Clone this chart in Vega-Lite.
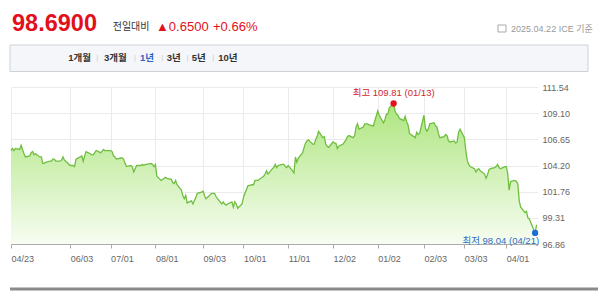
{
  "$schema": "https://vega.github.io/schema/vega-lite/v6.json",
  "width": 527,
  "height": 157,
  "autosize": "none",
  "padding": {"left": 11, "top": 87, "right": 62, "bottom": 58},
  "background": "#ffffff",
  "config": {"view": {"stroke": null}, "font": "Liberation Sans, Noto Sans CJK KR, sans-serif"},
  "datasets": {
    "series": [
      {"date":"2024-04-23","value":105.6},{"date":"2024-04-24","value":105.8},{"date":"2024-04-25","value":105.6},{"date":"2024-04-26","value":105.8},
      {"date":"2024-04-29","value":105.7},{"date":"2024-04-30","value":106.1},{"date":"2024-05-01","value":105.7},{"date":"2024-05-02","value":105.3},{"date":"2024-05-03","value":105.0},
      {"date":"2024-05-06","value":105.1},{"date":"2024-05-07","value":105.4},{"date":"2024-05-08","value":105.5},{"date":"2024-05-09","value":105.2},{"date":"2024-05-10","value":105.3},
      {"date":"2024-05-13","value":105.0},{"date":"2024-05-14","value":105.0},{"date":"2024-05-15","value":104.4},{"date":"2024-05-16","value":104.4},{"date":"2024-05-17","value":104.5},
      {"date":"2024-05-20","value":104.6},{"date":"2024-05-21","value":104.6},{"date":"2024-05-22","value":104.8},{"date":"2024-05-23","value":104.8},{"date":"2024-05-24","value":104.6},
      {"date":"2024-05-27","value":104.6},{"date":"2024-05-28","value":104.7},{"date":"2024-05-29","value":105.0},{"date":"2024-05-30","value":104.7},{"date":"2024-05-31","value":104.6},
      {"date":"2024-06-03","value":104.2},{"date":"2024-06-04","value":104.2},{"date":"2024-06-05","value":104.2},{"date":"2024-06-06","value":104.1},{"date":"2024-06-07","value":104.8},
      {"date":"2024-06-10","value":105.0},{"date":"2024-06-11","value":105.1},{"date":"2024-06-12","value":104.6},{"date":"2024-06-13","value":105.1},{"date":"2024-06-14","value":105.5},
      {"date":"2024-06-17","value":105.3},{"date":"2024-06-18","value":105.2},{"date":"2024-06-19","value":105.2},{"date":"2024-06-20","value":105.4},{"date":"2024-06-21","value":105.6},
      {"date":"2024-06-24","value":105.4},{"date":"2024-06-25","value":105.5},{"date":"2024-06-26","value":105.7},{"date":"2024-06-27","value":105.6},{"date":"2024-06-28","value":105.6},
      {"date":"2024-07-01","value":105.6},{"date":"2024-07-02","value":105.5},{"date":"2024-07-03","value":105.1},{"date":"2024-07-04","value":105.0},{"date":"2024-07-05","value":104.8},
      {"date":"2024-07-08","value":104.9},{"date":"2024-07-09","value":104.9},{"date":"2024-07-10","value":104.8},{"date":"2024-07-11","value":104.4},{"date":"2024-07-12","value":104.1},
      {"date":"2024-07-15","value":104.2},{"date":"2024-07-16","value":104.1},{"date":"2024-07-17","value":103.6},{"date":"2024-07-18","value":103.9},{"date":"2024-07-19","value":104.2},
      {"date":"2024-07-22","value":104.2},{"date":"2024-07-23","value":104.3},{"date":"2024-07-24","value":104.2},{"date":"2024-07-25","value":104.3},{"date":"2024-07-26","value":104.3},
      {"date":"2024-07-29","value":104.4},{"date":"2024-07-30","value":104.3},{"date":"2024-07-31","value":104.1},{"date":"2024-08-01","value":104.3},{"date":"2024-08-02","value":103.2},
      {"date":"2024-08-05","value":102.8},{"date":"2024-08-06","value":102.9},{"date":"2024-08-07","value":103.0},{"date":"2024-08-08","value":103.1},{"date":"2024-08-09","value":103.0},
      {"date":"2024-08-12","value":102.9},{"date":"2024-08-13","value":102.6},{"date":"2024-08-14","value":102.5},{"date":"2024-08-15","value":102.8},{"date":"2024-08-16","value":102.4},
      {"date":"2024-08-19","value":101.9},{"date":"2024-08-20","value":101.4},{"date":"2024-08-21","value":101.1},{"date":"2024-08-22","value":101.4},{"date":"2024-08-23","value":100.7},
      {"date":"2024-08-26","value":100.9},{"date":"2024-08-27","value":100.6},{"date":"2024-08-28","value":100.9},{"date":"2024-08-29","value":101.2},{"date":"2024-08-30","value":101.6},
      {"date":"2024-09-02","value":101.7},{"date":"2024-09-03","value":101.8},{"date":"2024-09-04","value":101.4},{"date":"2024-09-05","value":101.1},{"date":"2024-09-06","value":101.2},
      {"date":"2024-09-09","value":101.6},{"date":"2024-09-10","value":101.6},{"date":"2024-09-11","value":101.6},{"date":"2024-09-12","value":101.3},{"date":"2024-09-13","value":101.1},
      {"date":"2024-09-16","value":100.6},{"date":"2024-09-17","value":100.8},{"date":"2024-09-18","value":100.6},{"date":"2024-09-19","value":100.5},{"date":"2024-09-20","value":100.6},
      {"date":"2024-09-23","value":100.8},{"date":"2024-09-24","value":100.3},{"date":"2024-09-25","value":100.8},{"date":"2024-09-26","value":100.6},{"date":"2024-09-27","value":100.2},
      {"date":"2024-09-30","value":100.6},{"date":"2024-10-01","value":101.2},{"date":"2024-10-02","value":101.6},{"date":"2024-10-03","value":101.9},{"date":"2024-10-04","value":102.3},
      {"date":"2024-10-07","value":102.4},{"date":"2024-10-08","value":102.4},{"date":"2024-10-09","value":102.8},{"date":"2024-10-10","value":102.8},{"date":"2024-10-11","value":102.8},
      {"date":"2024-10-14","value":103.1},{"date":"2024-10-15","value":103.2},{"date":"2024-10-16","value":103.4},{"date":"2024-10-17","value":103.7},{"date":"2024-10-18","value":103.4},
      {"date":"2024-10-21","value":103.9},{"date":"2024-10-22","value":104.0},{"date":"2024-10-23","value":104.3},{"date":"2024-10-24","value":104.0},{"date":"2024-10-25","value":104.2},
      {"date":"2024-10-28","value":104.3},{"date":"2024-10-29","value":104.3},{"date":"2024-10-30","value":104.1},{"date":"2024-10-31","value":104.0},{"date":"2024-11-01","value":104.2},
      {"date":"2024-11-04","value":103.7},{"date":"2024-11-05","value":103.5},{"date":"2024-11-06","value":105.0},{"date":"2024-11-07","value":104.5},{"date":"2024-11-08","value":104.9},
      {"date":"2024-11-11","value":105.4},{"date":"2024-11-12","value":105.9},{"date":"2024-11-13","value":106.3},{"date":"2024-11-14","value":106.5},{"date":"2024-11-15","value":106.6},
      {"date":"2024-11-18","value":106.2},{"date":"2024-11-19","value":106.2},{"date":"2024-11-20","value":106.6},{"date":"2024-11-21","value":106.9},{"date":"2024-11-22","value":107.4},
      {"date":"2024-11-25","value":106.8},{"date":"2024-11-26","value":106.9},{"date":"2024-11-27","value":106.2},{"date":"2024-11-28","value":106.0},{"date":"2024-11-29","value":105.9},
      {"date":"2024-12-02","value":106.4},{"date":"2024-12-03","value":106.3},{"date":"2024-12-04","value":106.3},{"date":"2024-12-05","value":105.8},{"date":"2024-12-06","value":106.0},
      {"date":"2024-12-09","value":106.2},{"date":"2024-12-10","value":106.4},{"date":"2024-12-11","value":106.6},{"date":"2024-12-12","value":106.9},{"date":"2024-12-13","value":107.0},
      {"date":"2024-12-16","value":106.8},{"date":"2024-12-17","value":107.0},{"date":"2024-12-18","value":107.8},{"date":"2024-12-19","value":108.1},{"date":"2024-12-20","value":107.6},
      {"date":"2024-12-23","value":107.8},{"date":"2024-12-24","value":108.1},{"date":"2024-12-26","value":108.1},{"date":"2024-12-27","value":108.0},{"date":"2024-12-30","value":107.9},
      {"date":"2024-12-31","value":108.4},{"date":"2025-01-02","value":109.3},{"date":"2025-01-03","value":108.9},{"date":"2025-01-06","value":108.2},{"date":"2025-01-07","value":108.5},
      {"date":"2025-01-08","value":109.0},{"date":"2025-01-09","value":109.0},{"date":"2025-01-10","value":109.6},{"date":"2025-01-13","value":110.0},{"date":"2025-01-14","value":109.3},
      {"date":"2025-01-15","value":109.0},{"date":"2025-01-16","value":108.9},{"date":"2025-01-17","value":108.6},{"date":"2025-01-20","value":108.4},{"date":"2025-01-21","value":108.8},
      {"date":"2025-01-22","value":108.3},{"date":"2025-01-23","value":108.0},{"date":"2025-01-24","value":107.2},{"date":"2025-01-27","value":106.9},{"date":"2025-01-28","value":106.8},
      {"date":"2025-01-29","value":107.3},{"date":"2025-01-30","value":107.1},{"date":"2025-01-31","value":107.2},{"date":"2025-02-03","value":108.9},{"date":"2025-02-04","value":107.7},
      {"date":"2025-02-05","value":107.4},{"date":"2025-02-06","value":107.6},{"date":"2025-02-07","value":108.1},{"date":"2025-02-10","value":108.2},{"date":"2025-02-11","value":107.9},
      {"date":"2025-02-12","value":107.8},{"date":"2025-02-13","value":107.2},{"date":"2025-02-14","value":106.8},{"date":"2025-02-17","value":106.9},{"date":"2025-02-18","value":107.1},
      {"date":"2025-02-19","value":107.0},{"date":"2025-02-20","value":106.5},{"date":"2025-02-21","value":106.4},{"date":"2025-02-24","value":106.5},{"date":"2025-02-25","value":106.3},
      {"date":"2025-02-26","value":106.4},{"date":"2025-02-27","value":107.3},{"date":"2025-02-28","value":107.6},{"date":"2025-03-03","value":106.8},{"date":"2025-03-04","value":105.6},
      {"date":"2025-03-05","value":104.7},{"date":"2025-03-06","value":104.3},{"date":"2025-03-07","value":104.1},{"date":"2025-03-10","value":103.9},{"date":"2025-03-11","value":103.6},
      {"date":"2025-03-12","value":103.8},{"date":"2025-03-13","value":103.9},{"date":"2025-03-14","value":103.7},{"date":"2025-03-17","value":103.4},{"date":"2025-03-18","value":103.0},
      {"date":"2025-03-19","value":103.3},{"date":"2025-03-20","value":103.8},{"date":"2025-03-21","value":103.9},{"date":"2025-03-24","value":104.0},{"date":"2025-03-25","value":104.1},
      {"date":"2025-03-26","value":104.3},{"date":"2025-03-27","value":104.0},{"date":"2025-03-28","value":103.9},{"date":"2025-03-31","value":104.1},{"date":"2025-04-01","value":104.1},
      {"date":"2025-04-02","value":103.5},{"date":"2025-04-03","value":101.9},{"date":"2025-04-04","value":102.7},{"date":"2025-04-07","value":102.8},{"date":"2025-04-08","value":102.7},
      {"date":"2025-04-09","value":102.5},{"date":"2025-04-10","value":100.9},{"date":"2025-04-11","value":100.3},{"date":"2025-04-14","value":99.8},{"date":"2025-04-15","value":99.9},
      {"date":"2025-04-16","value":99.3},{"date":"2025-04-17","value":99.2},{"date":"2025-04-21","value":97.9},{"date":"2025-04-22","value":98.66}
    ],
    "extremes": [
      {"date":"2025-01-13","value":110.0,"kind":"high","label":"최고 109.81 (01/13)"},
      {"date":"2025-04-21","value":97.9,"kind":"low","label":"최저 98.04 (04/21)"}
    ]
  },
  "layer": [
    {
      "encoding": {
        "x": {
          "field": "date", "type": "temporal",
          "scale": {"type": "utc", "domain": [{"year":2024,"month":4,"date":23,"utc":true},{"year":2025,"month":4,"date":23,"utc":true}]},
          "axis": {
            "values": [
              {"year":2024,"month":4,"date":23,"utc":true},{"year":2024,"month":6,"date":3,"utc":true},{"year":2024,"month":7,"date":1,"utc":true},
              {"year":2024,"month":8,"date":1,"utc":true},{"year":2024,"month":9,"date":3,"utc":true},{"year":2024,"month":10,"date":1,"utc":true},
              {"year":2024,"month":11,"date":1,"utc":true},{"year":2024,"month":12,"date":2,"utc":true},{"year":2025,"month":1,"date":2,"utc":true},
              {"year":2025,"month":2,"date":3,"utc":true},{"year":2025,"month":3,"date":3,"utc":true},{"year":2025,"month":4,"date":1,"utc":true}
            ],
            "format": "%m/%d", "title": null, "labelAlign": "left", "labelBaseline": "top", "labelPadding": 6,
            "labelFontSize": 9, "labelColor": "#666666", "labelFlush": false, "labelOverlap": false,
            "tickSize": 4, "tickColor": "#aaaaaa", "domainColor": "#aaaaaa", "domainWidth": 1.2,
            "grid": true, "gridColor": "#ebebeb"
          }
        },
        "y": {
          "field": "value", "type": "quantitative",
          "scale": {"domain": [96.86, 111.54], "zero": false, "nice": false},
          "axis": {
            "orient": "right", "values": [96.86, 99.31, 101.76, 104.2, 106.65, 109.1, 111.54], "format": ".2f",
            "title": null, "domain": false, "ticks": false, "labelPadding": 4, "labelFontSize": 9,
            "labelColor": "#666666", "labelFlush": false, "grid": true, "gridColor": "#ebebeb"
          }
        }
      },
      "layer": [
        {
          "data": {"name": "series"},
          "mark": {"type": "area", "clip": true, "color": {"gradient": "linear", "x1": 0, "y1": 0, "x2": 0, "y2": 1,
            "stops": [{"offset": 0, "color": "#ade57e"}, {"offset": 1, "color": "#f7fdf2"}]}, "opacity": 1},
          "encoding": {"y2": {"datum": 96.86}}
        },
        {
          "data": {"name": "series"},
          "mark": {"type": "line", "color": "#6fbe40", "strokeWidth": 1.3}
        },
        {
          "data": {"name": "extremes"},
          "mark": {"type": "point", "filled": true, "size": 40, "opacity": 1},
          "encoding": {"color": {"field": "kind", "type": "nominal", "scale": {"domain": ["high", "low"], "range": ["#e3131b", "#1c6fd1"]}, "legend": null}}
        },
        {
          "data": {"name": "extremes"},
          "transform": [{"filter": "datum.kind == 'high'"}],
          "mark": {"type": "text", "align": "center", "baseline": "middle", "dy": -10, "fontSize": 9.5, "color": "#d4262d"},
          "encoding": {"text": {"field": "label"}}
        },
        {
          "data": {"name": "extremes"},
          "transform": [{"filter": "datum.kind == 'low'"}],
          "mark": {"type": "text", "align": "right", "baseline": "middle", "dx": 4, "dy": 8, "fontSize": 9.5, "color": "#2c6fc2"},
          "encoding": {"text": {"field": "label"}}
        }
      ]
    },
    {
      "data": {"values": [{}]},
      "mark": {"type": "text", "text": "98.6900", "align": "left", "baseline": "alphabetic", "fontSize": 23.5, "fontWeight": "bold", "color": "#e2101a"},
      "encoding": {"x": {"value": 1}, "y": {"value": -56.5}}
    },
    {
      "data": {"values": [{}]},
      "mark": {"type": "text", "text": "전일대비", "align": "left", "baseline": "alphabetic", "fontSize": 10, "color": "#333333"},
      "encoding": {"x": {"value": 101.7}, "y": {"value": -57.5}}
    },
    {
      "data": {"values": [{}]},
      "mark": {"type": "text", "text": "▲0.6500", "align": "left", "baseline": "alphabetic", "fontSize": 13, "color": "#e2101a"},
      "encoding": {"x": {"value": 145}, "y": {"value": -56.5}}
    },
    {
      "data": {"values": [{}]},
      "mark": {"type": "text", "text": "+0.66%", "align": "left", "baseline": "alphabetic", "fontSize": 13, "color": "#e2101a"},
      "encoding": {"x": {"value": 202}, "y": {"value": -56.5}}
    },
    {
      "data": {"values": [{}]},
      "mark": {"type": "rect", "fill": "#ffffff", "stroke": "#aaaaaa", "strokeWidth": 1},
      "encoding": {"x": {"value": 487}, "x2": {"value": 495}, "y": {"value": -62}, "y2": {"value": -55}}
    },
    {
      "data": {"values": [{}]},
      "mark": {"type": "text", "text": "2025.04.22 ICE 기준", "align": "right", "baseline": "alphabetic", "fontSize": 9, "color": "#999999"},
      "encoding": {"x": {"value": 581.7}, "y": {"value": -55.5}}
    },
    {
      "data": {"values": [{}]},
      "mark": {"type": "rect", "fill": "#f5f6f9", "stroke": "#cdd1d8", "strokeWidth": 1},
      "encoding": {"x": {"value": -1}, "x2": {"value": 577}, "y": {"value": -42}, "y2": {"value": -15.5}}
    },
    {
      "data": {"values": [{}]},
      "mark": {"type": "text", "text": "1개월", "align": "left", "baseline": "alphabetic", "fontSize": 9.5, "fontWeight": "bold", "color": "#333333"},
      "encoding": {"x": {"value": 57.3}, "y": {"value": -26.5}}
    },
    {
      "data": {"values": [{}]},
      "mark": {"type": "text", "text": "3개월", "align": "left", "baseline": "alphabetic", "fontSize": 9.5, "fontWeight": "bold", "color": "#333333"},
      "encoding": {"x": {"value": 93}, "y": {"value": -26.5}}
    },
    {
      "data": {"values": [{}]},
      "mark": {"type": "text", "text": "1년", "align": "left", "baseline": "alphabetic", "fontSize": 9.5, "fontWeight": "bold", "color": "#2f5fbf"},
      "encoding": {"x": {"value": 129}, "y": {"value": -26.5}}
    },
    {
      "data": {"values": [{}]},
      "mark": {"type": "text", "text": "3년", "align": "left", "baseline": "alphabetic", "fontSize": 9.5, "fontWeight": "bold", "color": "#333333"},
      "encoding": {"x": {"value": 155.7}, "y": {"value": -26.5}}
    },
    {
      "data": {"values": [{}]},
      "mark": {"type": "text", "text": "5년", "align": "left", "baseline": "alphabetic", "fontSize": 9.5, "fontWeight": "bold", "color": "#333333"},
      "encoding": {"x": {"value": 180.7}, "y": {"value": -26.5}}
    },
    {
      "data": {"values": [{}]},
      "mark": {"type": "text", "text": "10년", "align": "left", "baseline": "alphabetic", "fontSize": 9.5, "fontWeight": "bold", "color": "#333333"},
      "encoding": {"x": {"value": 207.3}, "y": {"value": -26.5}}
    },
    {
      "data": {"values": [{}]},
      "mark": {"type": "rule", "color": "#d8d8d8", "strokeWidth": 1},
      "encoding": {"x": {"value": 86.3}, "y": {"value": -32}, "y2": {"value": -25.5}}
    },
    {
      "data": {"values": [{}]},
      "mark": {"type": "rule", "color": "#d8d8d8", "strokeWidth": 1},
      "encoding": {"x": {"value": 124}, "y": {"value": -32}, "y2": {"value": -25.5}}
    },
    {
      "data": {"values": [{}]},
      "mark": {"type": "rule", "color": "#d8d8d8", "strokeWidth": 1},
      "encoding": {"x": {"value": 151.3}, "y": {"value": -32}, "y2": {"value": -25.5}}
    },
    {
      "data": {"values": [{}]},
      "mark": {"type": "rule", "color": "#d8d8d8", "strokeWidth": 1},
      "encoding": {"x": {"value": 176.7}, "y": {"value": -32}, "y2": {"value": -25.5}}
    },
    {
      "data": {"values": [{}]},
      "mark": {"type": "rule", "color": "#d8d8d8", "strokeWidth": 1},
      "encoding": {"x": {"value": 202.3}, "y": {"value": -32}, "y2": {"value": -25.5}}
    },
    {
      "data": {"values": [{}]},
      "mark": {"type": "rule", "color": "#8a8a8a", "strokeWidth": 3},
      "encoding": {"x": {"value": -1}, "x2": {"value": 587}, "y": {"value": 202}}
    }
  ]
}
